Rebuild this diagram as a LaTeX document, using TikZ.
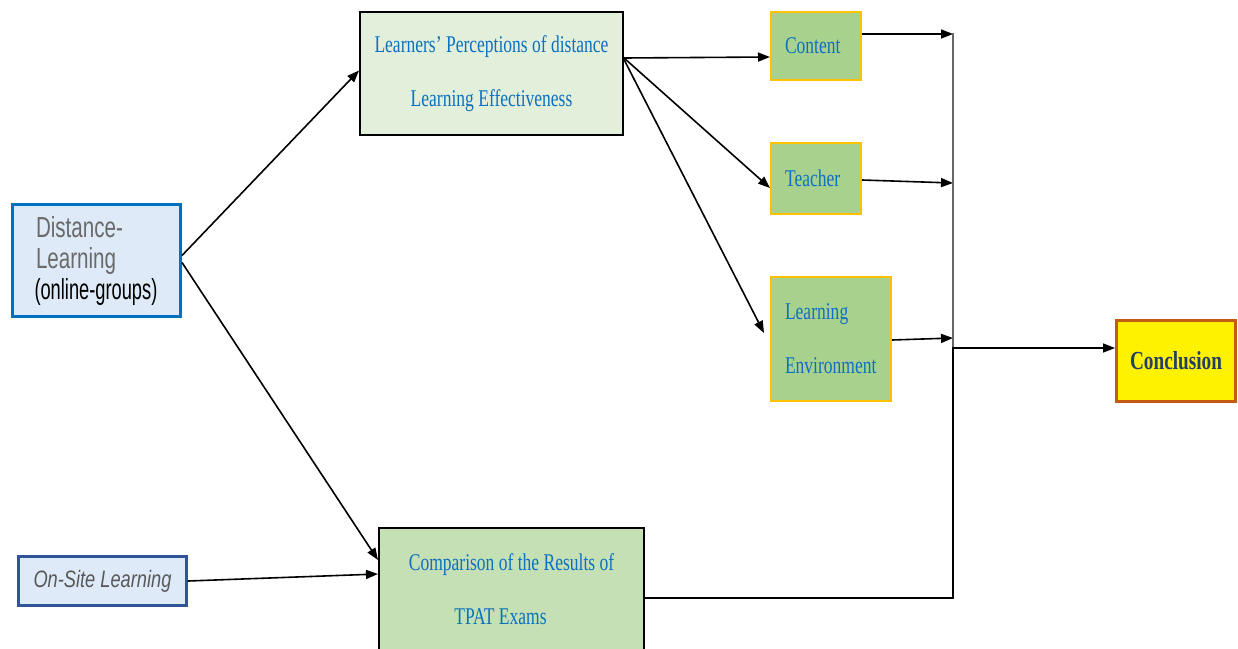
\documentclass[tikz,border=0pt]{standalone}
\usepackage{fontspec}
\usetikzlibrary{arrows.meta,calc}
\newfontfamily\dsans[FakeStretch=0.71]{Liberation Sans}
\newfontfamily\dsansn[FakeStretch=0.63]{Liberation Sans}
\newfontfamily\osans[FakeStretch=0.77]{Liberation Sans}
\newfontfamily\nserif[FakeStretch=0.73]{Liberation Serif}
\newfontfamily\cserif[FakeStretch=0.74]{Liberation Serif}
\definecolor{distblue}{HTML}{0070C0}
\definecolor{lightblue}{HTML}{DEEAF7}
\definecolor{onsiteblue}{HTML}{2F5597}
\definecolor{learnfill}{HTML}{E2EFDA}
\definecolor{compfill}{HTML}{C5E0B4}
\definecolor{leaffill}{HTML}{A9D18E}
\definecolor{leafdraw}{HTML}{FFC000}
\definecolor{concldraw}{HTML}{C55A11}
\definecolor{textblue}{HTML}{0E70C0}
\definecolor{textgray}{HTML}{595959}
\definecolor{distgray}{HTML}{6A6A6A}
\definecolor{concltext}{HTML}{243F60}
\tikzset{
  boxbase/.style={draw, rectangle, inner ysep=0pt, anchor=center},
  bigbox/.style={boxbase, line width=2pt, text=textblue, align=center,
    font=\nserif\fontsize{24}{54}\selectfont},
  leafbox/.style={boxbase, fill=leaffill, draw=leafdraw, line width=2pt,
    text=textblue, align=left, inner xsep=14pt,
    font=\nserif\fontsize{24}{54}\selectfont},
  conn/.style={line width=1.6pt, -{Triangle[length=12pt,width=9pt]}},
}
\begin{document}
\begin{tikzpicture}[x=1pt,y=-1pt]
\clip (0,0) rectangle (1238,648);
\fill[white] (0,0) rectangle (1238,648);

% left boxes
\node[boxbase, draw=distblue, fill=lightblue, line width=3pt,
  minimum width=168pt, minimum height=112pt, text width=124pt,
  inner xsep=22pt, align=left, font=\dsans\fontsize{29}{31}\selectfont]
  (dist) at (96.5,260.5)
  {\textcolor{distgray}{\kern1.5pt Distance-}\\\textcolor{distgray}{\kern1.5pt Learning}\\{\dsansn (online-groups)}};
\node[boxbase, draw=onsiteblue, fill=lightblue, line width=3pt,
  minimum width=168pt, minimum height=49pt, text=textgray,
  font=\osans\itshape\fontsize{23.7}{26}\selectfont]
  (onsite) at (102.5,581) {On-Site Learning};

% middle boxes
\node[bigbox, fill=learnfill, minimum width=263pt, minimum height=123pt]
  (learn) at (491.5,73.5) {Learners’ Perceptions of distance\\Learning Effectiveness};
\node[bigbox, fill=compfill, minimum width=265pt, minimum height=122pt]
  (comp) at (511.5,589) {Comparison of the Results of\\TPAT Exams\hspace*{22pt}};

% leaf boxes
\node[leafbox, minimum width=90pt, minimum height=68pt, text width=62pt]
  (content) at (816,46) {Content};
\node[leafbox, minimum width=90pt, minimum height=71pt, text width=62pt]
  (teacher) at (816,178.5) {Teacher};
\node[leafbox, minimum width=120pt, minimum height=124pt, text width=92pt]
  (env) at (831,339) {Learning\\Environment};

% conclusion
\node[boxbase, fill=yellow, draw=concldraw, line width=3pt,
  minimum width=119pt, minimum height=81pt, text=concltext,
  font=\cserif\bfseries\fontsize{26}{30}\selectfont]
  (concl) at (1176,361) {Conclusion};

% junction coordinates
\coordinate (jtop) at (953,33);
\coordinate (jc) at (953,34);
\coordinate (jt) at (953,183);
\coordinate (je) at (953,338);
\coordinate (jbot) at (953,425);
\coordinate (jm) at (953,348);

% connectors
\draw[conn] ([yshift=5pt]dist.east) -- ([yshift=3pt]learn.west);
\draw[conn] ([yshift=-2pt]dist.east) -- ([yshift=29pt]comp.west);
\draw[conn] (onsite.east) -- ([yshift=15pt]comp.west);

\draw[conn] ([yshift=15.5pt]learn.east) -- ([yshift=-11pt]content.west);
\draw[conn] ([yshift=15.5pt]learn.east) -- ([yshift=-9.5pt]teacher.west);
\draw[conn] ([yshift=14pt]learn.east) -- ([yshift=6pt,xshift=-6pt]env.west);

\draw[conn] ([yshift=12pt]content.east) -- (jc);
\draw[conn] ([yshift=-1.5pt]teacher.east) -- (jt);
\draw[conn] ([yshift=-1pt]env.east) -- (je);

\draw[line width=1.2pt, black!60] (jtop) -- (jbot);
\draw[conn] ([yshift=-9pt]comp.east) -| (jm) -- ([yshift=13pt]concl.west);
\end{tikzpicture}
\end{document}
